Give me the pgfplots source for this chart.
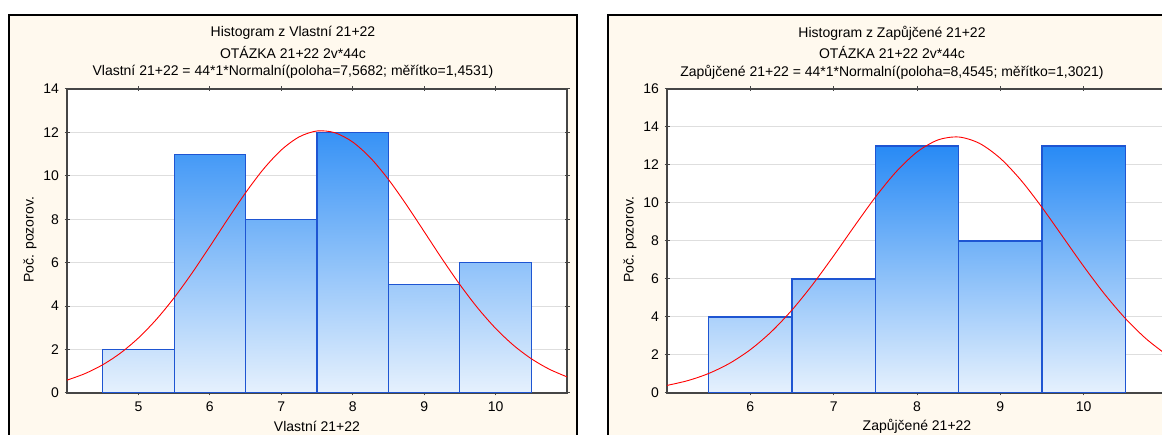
\documentclass[border=0pt]{standalone}
\usepackage{fontspec}
\setmainfont{Liberation Sans}
\usepackage{pgfplots}
\pgfplotsset{compat=1.18}
\definecolor{cream}{RGB}{255,249,238}
\definecolor{bdark}{RGB}{40,138,245}
\definecolor{blight}{RGB}{230,241,253}
\definecolor{bedge}{RGB}{30,85,210}
\definecolor{axgray}{RGB}{70,70,70}
\definecolor{gridgray}{RGB}{222,222,222}
\newcommand{\tf}{\fontsize{14}{16}\selectfont}
\pgfplotsset{
  hist/.style={scale only axis, width=500pt, height=304pt, anchor=south west,
    axis background/.style={fill=white},
    axis line style={axgray, line width=1.4pt},
    tick style={axgray, line width=1pt}, major tick length=5pt, tick align=center,
    ymajorgrids, grid style={gridgray, line width=1pt},
    tick label style={font=\tf},
    /pgf/number format/assume math mode=true,
    xticklabel style={yshift=-3pt}, yticklabel style={xshift=-2pt},
    ymin=0},
  hb/.style={ybar, bar width=1, bar shift=0pt, draw=bedge, line width=1.2pt,
    bottom color=blight, top color=bdark!#1!blight},
  curve/.style={red, line width=0.9pt, smooth, no marks}
}
\begin{document}
\begin{tikzpicture}
\useasboundingbox (0pt,0pt) rectangle (1162pt,435pt);
\clip (0pt,0pt) rectangle (1162pt,435pt);
\filldraw[fill=cream, draw=black, line width=2pt] (9pt,-10pt) rectangle (577pt,420pt);
\filldraw[fill=cream, draw=black, line width=2pt] (608pt,-10pt) rectangle (1176pt,420pt);

% Left panel
\node[font=\tf] at (293pt,402pt) {Histogram z Vlastní 21+22};
\node[font=\tf] at (293pt,382pt) {OTÁZKA 21+22 2v*44c};
\node[font=\tf] at (293pt,363pt) {Vlastní 21+22 = 44*1*Normalní(poloha=7,5682; měřítko=1,4531)};
\node[font=\tf, rotate=90] at (30pt,195pt) {Poč. pozorov.};
\node[font=\tf] at (317pt,9pt) {Vlastní 21+22};
\begin{axis}[hist, at={(67pt,42pt)}, xmin=4, xmax=11, ymax=14,
  xtick={5,...,10}, ytick={0,2,...,14}]
\addplot[hb=15] coordinates {(5,2)};
\addplot[hb=85] coordinates {(6,11)};
\addplot[hb=62] coordinates {(7,8)};
\addplot[hb=92] coordinates {(8,12)};
\addplot[hb=38] coordinates {(9,5)};
\addplot[hb=46] coordinates {(10,6)};
\addplot[curve] coordinates {
(4.0,0.592) (4.25,0.891) (4.5,1.300) (4.75,1.842) (5.0,2.534) (5.25,3.384)
(5.5,4.387) (5.75,5.522) (6.0,6.748) (6.25,8.005) (6.5,9.220) (6.75,10.309)
(7.0,11.191) (7.25,11.794) (7.5,12.067) (7.75,11.986) (8.0,11.558) (8.25,10.821)
(8.5,9.835) (8.75,8.678) (9.0,7.434) (9.25,6.183) (9.5,4.992) (9.75,3.913)
(10.0,2.978) (10.25,2.200) (10.5,1.578) (10.75,1.099) (11.0,0.743)};
\end{axis}

% Right panel
\node[font=\tf] at (892pt,402pt) {Histogram z Zapůjčené 21+22};
\node[font=\tf] at (892pt,382pt) {OTÁZKA 21+22 2v*44c};
\node[font=\tf] at (892pt,363pt) {Zapůjčené 21+22 = 44*1*Normalní(poloha=8,4545; měřítko=1,3021)};
\node[font=\tf, rotate=90] at (630pt,195pt) {Poč. pozorov.};
\node[font=\tf] at (917pt,9pt) {Zapůjčené 21+22};
\begin{axis}[hist, at={(667pt,42pt)}, xmin=5, xmax=11, ymax=16,
  xtick={6,...,10}, ytick={0,2,...,16}]
\addplot[hb=31] coordinates {(6,4)};
\addplot[hb=46] coordinates {(7,6)};
\addplot[hb=100] coordinates {(8,13)};
\addplot[hb=62] coordinates {(9,8)};
\addplot[hb=100] coordinates {(10,13)};
\addplot[curve] coordinates {
(5.0,0.399) (5.25,0.652) (5.5,1.028) (5.75,1.560) (6.0,2.281) (6.25,3.216)
(6.5,4.370) (6.75,5.723) (7.0,7.224) (7.25,8.788) (7.5,10.305) (7.75,11.645)
(8.0,12.684) (8.25,13.316) (8.5,13.473) (8.75,13.138) (9.0,12.348) (9.25,11.186)
(9.5,9.766) (9.75,8.218) (10.0,6.665) (10.25,5.210) (10.5,3.925) (10.75,2.850)
(11.0,1.995)};
\end{axis}
\end{tikzpicture}
\end{document}
